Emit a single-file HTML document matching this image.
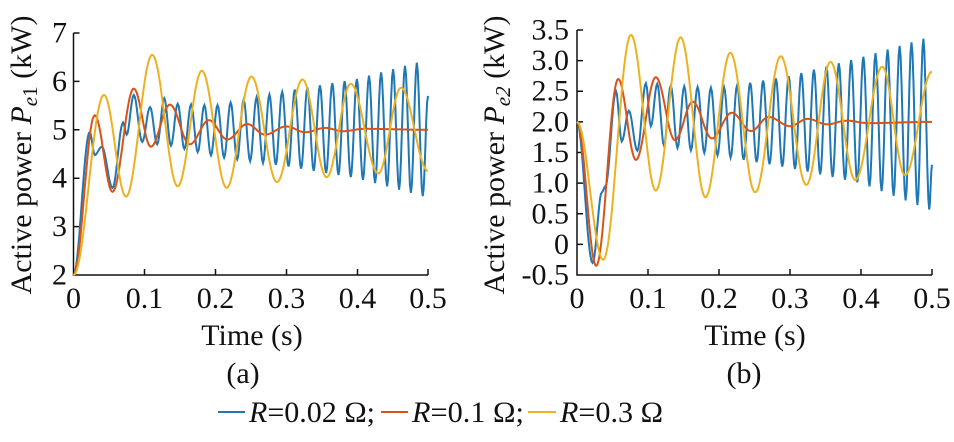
<!DOCTYPE html>
<html><head><meta charset="utf-8"><style>
body{margin:0;background:#fff;}
svg{display:block;}
text{font-family:"Liberation Serif",serif;}
</style></head><body>
<svg id="s" width="954" height="442" viewBox="0 0 954 442" xmlns="http://www.w3.org/2000/svg" font-family="Liberation Serif, serif">
<g font-size="30" fill="#111">
<g stroke="#111" stroke-width="1.5" fill="none">
<path d="M73.5,33 V275 H428"/>
<path d="M73.5,33 h6 M73.5,81.4 h6 M73.5,129.8 h6 M73.5,178.2 h6 M73.5,226.6 h6"/>
<path d="M144.5,275 v-6 M215.5,275 v-6 M286.5,275 v-6 M357.5,275 v-6 M428,275 v-6"/>
<path d="M577,30 V275 H932"/>
<path d="M577,30 h6 M577,60.6 h6 M577,91.2 h6 M577,121.9 h6 M577,152.5 h6 M577,183.1 h6 M577,213.8 h6 M577,244.4 h6"/>
<path d="M648,275 v-6 M719,275 v-6 M790,275 v-6 M861,275 v-6 M932,275 v-6"/>
</g>
<g text-anchor="end" dominant-baseline="central">
<text x="67" y="33">7</text><text x="67" y="81.4">6</text><text x="67" y="129.8">5</text><text x="67" y="178.2">4</text><text x="67" y="226.6">3</text><text x="67" y="275">2</text>
<text x="569" y="30">3.5</text><text x="569" y="60.6">3.0</text><text x="569" y="91.2">2.5</text><text x="569" y="121.9">2.0</text><text x="569" y="152.5">1.5</text><text x="569" y="183.1">1.0</text><text x="569" y="213.8">0.5</text><text x="569" y="244.4">0</text><text x="569" y="275">-0.5</text>
</g>
<g text-anchor="middle">
<text x="73.5" y="308">0</text><text x="144.5" y="308">0.1</text><text x="215.5" y="308">0.2</text><text x="286.5" y="308">0.3</text><text x="357.5" y="308">0.4</text><text x="428" y="308">0.5</text>
<text x="577" y="308">0</text><text x="648" y="308">0.1</text><text x="719" y="308">0.2</text><text x="790" y="308">0.3</text><text x="861" y="308">0.4</text><text x="932" y="308">0.5</text>
<text x="252" y="345">Time (s)</text><text x="755" y="345">Time (s)</text>
<text x="243" y="383">(a)</text><text x="744" y="383">(b)</text>
<text transform="translate(31,155) rotate(-90)">Active power <tspan font-style="italic">P</tspan><tspan font-style="italic" font-size="21" dy="6">e</tspan><tspan font-size="21">1</tspan><tspan dy="-6"> (kW)</tspan></text>
<text transform="translate(504,155) rotate(-90)">Active power <tspan font-style="italic">P</tspan><tspan font-style="italic" font-size="21" dy="6">e</tspan><tspan font-style="italic" font-size="21">2</tspan><tspan dy="-6"> (kW)</tspan></text>
</g>
<g stroke-width="2">
<line x1="218" y1="412" x2="245" y2="412" stroke="#1f77b4"/>
<line x1="381" y1="412" x2="408" y2="412" stroke="#d95319"/>
<line x1="528" y1="412" x2="556" y2="412" stroke="#edb120"/>
</g>
<text x="249" y="422" textLength="126" lengthAdjust="spacingAndGlyphs"><tspan font-style="italic">R</tspan>=0.02 Ω;</text>
<text x="412" y="422" textLength="112" lengthAdjust="spacingAndGlyphs"><tspan font-style="italic">R</tspan>=0.1 Ω;</text>
<text x="560" y="422" textLength="103" lengthAdjust="spacingAndGlyphs"><tspan font-style="italic">R</tspan>=0.3 Ω</text>
</g>
<g id="curves" fill="none" stroke-width="2"></g>
</svg>
<script>
function cosPath(pts,X0,X1,Y0,Y1,v0,v1){
 let d="";
 const px=t=>X0+(X1-X0)*t/0.5, py=v=>Y0+(Y1-Y0)*(v-v0)/(v1-v0);
 for(let i=0;i<pts.length-1;i++){
  const [t0,a]=pts[i],[t1,b]=pts[i+1];
  const n=Math.max(4,Math.ceil((t1-t0)*700));
  for(let k=(i?1:0);k<=n;k++){const u=k/n;const t=t0+(t1-t0)*u;const v=a+(b-a)*(1-Math.cos(Math.PI*u))/2;
   d+=(d?"L":"M")+px(t).toFixed(1)+","+py(v).toFixed(1);}
 }
 return d;
}
function blue(start,hi,lo,tEnd,endVal){
 const pts=start.slice();let t=start[start.length-1][0];let up=start[start.length-1][1]<start[start.length-2][1];
 while(true){const p=0.019-0.0025*(t-0.13)/0.37;t+=p/2;if(t>tEnd)break;pts.push([t,up?hi(t):lo(t)]);up=!up;}
 pts.push([0.5,endVal]);return pts;
}
const L=(a,b,t)=>a+(b-a)*t;
function interp(tab,t){for(let i=0;i<tab.length-1;i++){if(t<=tab[i+1][0]){const u=(t-tab[i][0])/(tab[i+1][0]-tab[i][0]);return L(tab[i][1],tab[i+1][1],u);}}return tab[tab.length-1][1];}
const g=document.getElementById("curves");
function add(d,c){const p=document.createElementNS("http://www.w3.org/2000/svg","path");p.setAttribute("d",d);p.setAttribute("stroke",c);g.appendChild(p);}
const bl=blue([[0,2],[0.023,4.95],[0.03,4.48],[0.04,4.65],[0.055,3.8],[0.07,5.15],[0.075,4.9],[0.085,5.72],[0.097,4.75],[0.108,5.47],[0.118,4.7],[0.128,5.65]],
 t=>interp([[0.13,5.55],[0.2,5.5],[0.3,5.8],[0.4,6.05],[0.5,6.45]],t),
 t=>interp([[0.13,4.7],[0.2,4.45],[0.3,4.25],[0.4,4.0],[0.5,3.6]],t),0.499,5.7);
add(cosPath(bl,73.5,428,275,33,2,7),"#1f77b4");
add(cosPath([[0,2],[0.03,5.3],[0.055,3.72],[0.085,5.85],[0.109,4.65],[0.136,5.52],[0.164,4.7],[0.191,5.2],[0.217,4.8],[0.245,5.12],[0.27,4.9],[0.3,5.07],[0.327,4.95],[0.355,5.04],[0.38,4.97],[0.41,5.02],[0.5,5.0]],73.5,428,275,33,2,7),"#d95319");
add(cosPath([[0,2],[0.043,5.72],[0.074,3.62],[0.111,6.55],[0.147,3.83],[0.181,6.22],[0.216,3.8],[0.251,6.1],[0.287,3.92],[0.323,6.04],[0.357,4.02],[0.391,5.95],[0.43,4.1],[0.462,5.87],[0.5,4.15]],73.5,428,275,33,2,7),"#edb120");
const br=blue([[0,2],[0.022,-0.3],[0.035,0.85],[0.04,0.95],[0.055,2.5],[0.063,1.68],[0.073,2.18],[0.085,1.53],[0.097,2.63],[0.104,1.93],[0.113,2.62]],
 t=>interp([[0.12,2.6],[0.2,2.55],[0.3,2.75],[0.4,3.05],[0.5,3.4]],t),
 t=>interp([[0.12,1.62],[0.2,1.45],[0.3,1.25],[0.4,1.0],[0.5,0.55]],t),0.499,1.3);
add(cosPath(br,577,932,275,30,-0.5,3.5),"#1f77b4");
add(cosPath([[0,2],[0.027,-0.35],[0.058,2.7],[0.083,1.38],[0.111,2.73],[0.138,1.7],[0.163,2.33],[0.19,1.73],[0.218,2.15],[0.245,1.85],[0.27,2.08],[0.3,1.93],[0.325,2.05],[0.352,1.96],[0.38,2.02],[0.41,1.98],[0.5,2.0]],577,932,275,30,-0.5,3.5),"#d95319");
add(cosPath([[0,2],[0.037,-0.25],[0.076,3.42],[0.111,0.88],[0.146,3.38],[0.181,0.77],[0.216,3.13],[0.251,0.85],[0.287,3.07],[0.323,0.97],[0.357,2.98],[0.392,1.05],[0.43,2.9],[0.462,1.13],[0.5,2.82]],577,932,275,30,-0.5,3.5),"#edb120");
</script>
</body></html>
